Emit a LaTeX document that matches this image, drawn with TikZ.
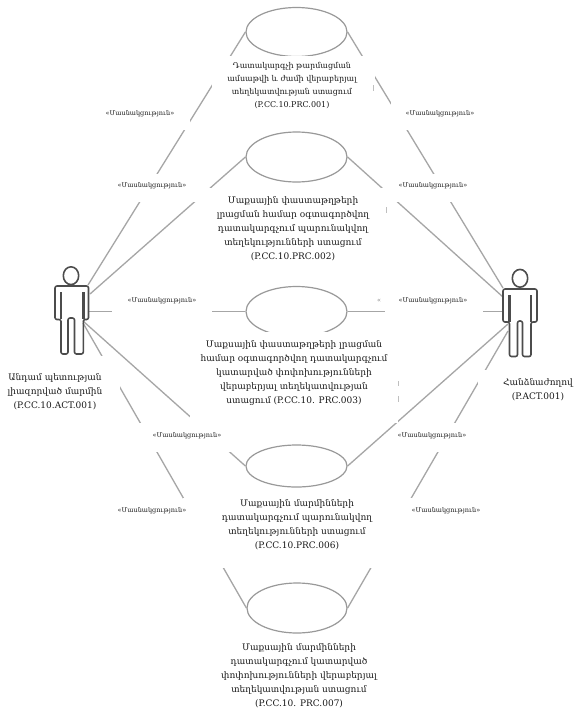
\documentclass[tikz,border=0pt]{standalone}
\usepackage{fontspec}
\setmainfont{DejaVu Serif}
\tikzset{
  x=1pt,y=-1pt,
  usecase/.style={draw=gray!80,line width=1.2pt,ellipse,inner sep=0pt},
  link/.style={draw=gray!70,line width=1.3pt},
  maskbox/.style={fill=white,draw=none,inner sep=0pt,rectangle},
  rel/.style={font=\fontsize{6.5}{8}\selectfont,text=black!90,inner sep=0pt},
  body/.style={font=\fontsize{9}{14}\selectfont,align=center,inner sep=0pt,text=black!90},
  small/.style={font=\fontsize{8}{12.7}\selectfont,align=center,inner sep=0pt,text=black!90},
  actor/.style={draw=black!70,line width=1.6pt,line join=round},
  actorbar/.style={draw=black!70,line width=2.6pt},
  speck/.style={draw=gray!50,line width=1pt},
}
\usetikzlibrary{shapes.geometric}
\begin{document}
\begin{tikzpicture}
\useasboundingbox (0,0) rectangle (578,715);
\fill[white] (0,0) rectangle (578,715);
% use cases
\node[usecase,minimum width=101pt,minimum height=49pt] (e1) at (296.5,32) {};
\node[usecase,minimum width=101pt,minimum height=50pt] (e2) at (296.5,157) {};
\node[usecase,minimum width=101pt,minimum height=50pt] (e3) at (296.5,311.5) {};
\node[usecase,minimum width=101pt,minimum height=42pt] (e4) at (296.5,466) {};
\node[usecase,minimum width=100pt,minimum height=50pt] (e5) at (297,608) {};
% actor ports
\coordinate (la1) at (88,285);
\coordinate (la2) at (90,294);
\coordinate (la3) at (89,311.5);
\coordinate (la4) at (83,321);
\coordinate (la5) at (83,323);
\coordinate (ra1) at (503,288);
\coordinate (ra2) at (503,297);
\coordinate (ra3) at (503,311.5);
\coordinate (ra4) at (508,324);
\coordinate (ra5) at (508,331);
% connectors
\draw[link] (la1) -- (e1.west);
\draw[link] (la2) -- (e2.west);
\draw[link] (la3) -- (e3.west);
\draw[link] (la4) -- (e4.west);
\draw[link] (la5) -- (e5.west);
\draw[link] (ra1) -- (e1.east);
\draw[link] (ra2) -- (e2.east);
\draw[link] (ra3) -- (e3.east);
\draw[link] (ra4) -- (e4.east);
\draw[link] (ra5) -- (e5.east);
% white boxes behind texts
\node[maskbox,minimum width=163pt,minimum height=60pt] (m1) at (293.5,86) {};
\node[maskbox,minimum width=200pt,minimum height=82pt] (m2) at (296,229) {};
\node[maskbox,minimum width=208pt,minimum height=91pt] (m3) at (294,377.5) {};
\node[maskbox,minimum width=232pt,minimum height=70pt] (m4) at (299,533) {};
\node[maskbox,minimum width=95pt,minimum height=30pt] (ml1) at (142.5,115) {};
\node[maskbox,minimum width=99pt,minimum height=30pt] (mr1) at (440.5,115) {};
\node[maskbox,minimum width=86pt,minimum height=28pt] (ml2) at (153,188) {};
\node[maskbox,minimum width=74pt,minimum height=28pt] (mr2) at (433,188) {};
\node[maskbox,minimum width=100pt,minimum height=38pt] (ml3) at (162,307) {};
\node[maskbox,minimum width=98pt,minimum height=38pt] (mr3) at (434,307) {};
\node[maskbox,minimum width=103pt,minimum height=29pt] (ml4) at (188.5,437.5) {};
\node[maskbox,minimum width=72pt,minimum height=29pt] (mr4) at (434,437.5) {};
\node[maskbox,minimum width=120pt,minimum height=64pt] (mal) at (60,388) {};
\node[maskbox,minimum width=100pt,minimum height=50pt] (mar) at (528,395) {};
% leftover specks
\draw[speck] (373,85) -- (373,91) (386,207) -- (386,213) (398,381) -- (398,386) (398,396) -- (398,402);
\node[rel,text=gray] (frag) at (379,301) {«};
% left actor
\draw[actor] (71,275.7) ellipse (7.7 and 8.9);
\draw[actor,rounded corners=2pt] (68,318) -- (68,354) -- (61,354) -- (61,319.5) -- (55,319.5) -- (55,286) -- (88.5,286) -- (88.5,319.5) -- (83.3,319.5) -- (83.3,354) -- (74.5,354) -- (74.5,318) -- cycle;
\draw[actorbar] (61,292) -- (61,319) (83.3,292) -- (83.3,319);
% right actor
\draw[actor] (520,278.3) ellipse (7.7 and 8.9);
\draw[actor,rounded corners=2pt] (517.5,321) -- (517.5,356.5) -- (509.5,356.5) -- (509.5,322) -- (503,322) -- (503,289) -- (537,289) -- (537,322) -- (531,322) -- (531,356.5) -- (522.5,356.5) -- (522.5,321) -- cycle;
\draw[actorbar] (509.5,295) -- (509.5,322) (531,295) -- (531,322);
% relation labels
\foreach \n/\px/\py in {l1/140/114,r1/440/114,l2/152/186,r2/433/186,l3/162/301,r3/433/301,l4/187/436,r4/432/436,l5/152/511,r5/446/511}
  \node[rel] (\n) at (\px,\py) {«Մասնակցություն»};
% texts
\node[small] (t1) at (292,85.5) {Դատակարգչի թարմացման\\ամսաթվի և ժամի վերաբերյալ\\տեղեկատվության ստացում\\(P.CC.10.PRC.001)};
\node[body] (t2) at (293,229) {Մաքսային փաստաթղթերի\\լրացման համար օգտագործվող\\դատակարգչում պարունակվող\\տեղեկությունների ստացում\\(P.CC.10.PRC.002)};
\node[body] (t3) at (294,373) {Մաքսային փաստաթղթերի լրացման\\համար օգտագործվող դատակարգչում\\կատարված փոփոխությունների\\վերաբերյալ տեղեկատվության\\ստացում (P.CC.10. PRC.003)};
\node[body] (t4) at (297,524.5) {Մաքսային մարմինների\\դատակարգչում պարունակվող\\տեղեկությունների ստացում\\(P.CC.10.PRC.006)};
\node[body] (t5) at (299,676) {Մաքսային մարմինների\\դատակարգչում կատարված\\փոփոխությունների վերաբերյալ\\տեղեկատվության ստացում\\(P.CC.10. PRC.007)};
\node[body] (al) at (55,391.5) {Անդամ պետության\\լիազորված մարմին\\(P.CC.10.ACT.001)};
\node[body] (ar) at (538,390) {Հանձնաժողով\\(P.ACT.001)};
\end{tikzpicture}
\end{document}
